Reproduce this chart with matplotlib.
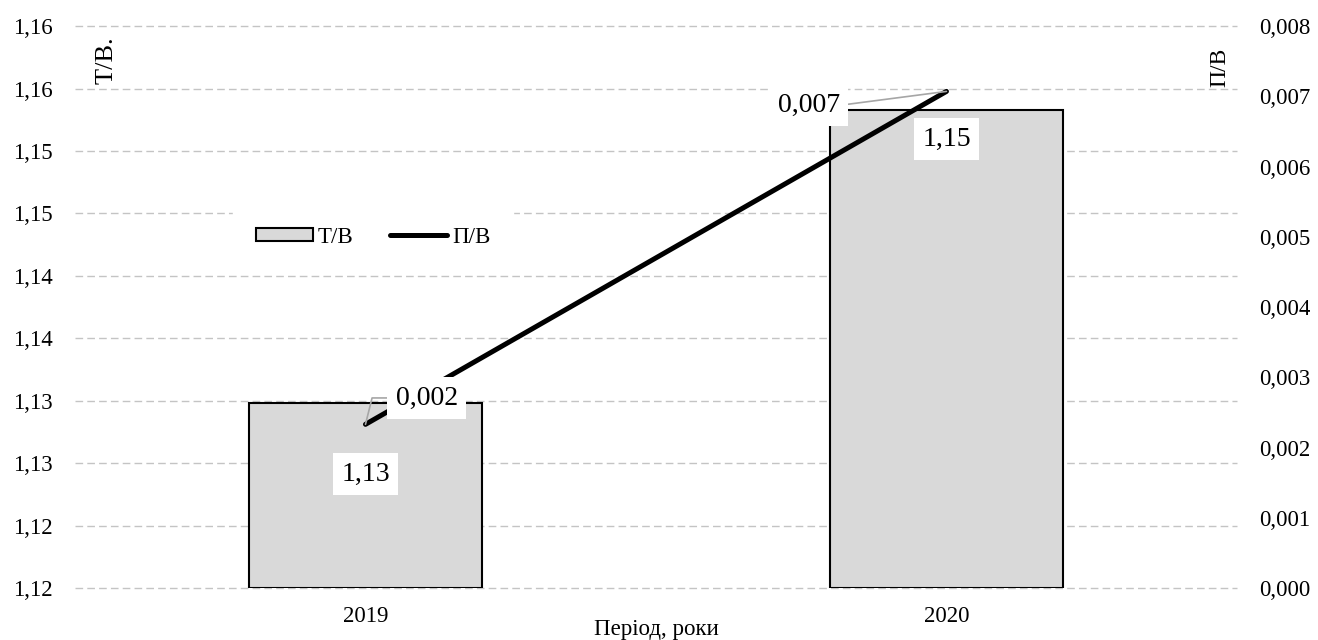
import matplotlib
matplotlib.use("Agg")
import matplotlib.pyplot as plt
from matplotlib.patches import Patch
from matplotlib.lines import Line2D

# ---- data ----
years = ["2019", "2020"]
tv_values = [1.1298, 1.1533]        # Т/В (left axis, bars)
pv_values = [0.00233, 0.00707]      # П/В (right axis, line)
tv_labels = ["1,13", "1,15"]
pv_labels = ["0,002", "0,007"]
left_ticks = [1.115, 1.12, 1.125, 1.13, 1.135, 1.14, 1.145, 1.15, 1.155, 1.16]
left_tick_labels = ["1,12", "1,12", "1,13", "1,13", "1,14", "1,14", "1,15", "1,15", "1,16", "1,16"]
right_ticks = [0.000, 0.001, 0.002, 0.003, 0.004, 0.005, 0.006, 0.007, 0.008]
right_tick_labels = ["0,000", "0,001", "0,002", "0,003", "0,004", "0,005", "0,006", "0,007", "0,008"]
x_title = "Період, роки"
left_title = "Т/В."
right_title = "П/В"
legend_labels = ["Т/В", "П/В"]

plt.rcParams['font.family'] = ['Liberation Serif', 'DejaVu Serif']

fig = plt.figure(figsize=(13.18, 6.4), dpi=100)
ax1 = fig.add_axes([0.0569, 0.08125, 0.8816, 0.878])
ax2 = ax1.twinx()

x = list(range(len(years)))
base = left_ticks[0]
bars = ax1.bar(x, [v - base for v in tv_values], bottom=base, width=0.4,
               color='#d9d9d9', edgecolor='black', linewidth=1.5, zorder=2)
ax1.set_xlim(-0.5, 1.5)
ax1.set_ylim(left_ticks[0], left_ticks[-1])
ax1.set_yticks(left_ticks)
ax1.set_yticklabels(left_tick_labels)
ax1.set_xticks(x)
ax1.set_xticklabels(years)
ax1.yaxis.grid(True, color='#c4c4c4', linestyle=(0, (5.5, 3)), linewidth=1.0, zorder=0)
for gl in ax1.yaxis.get_gridlines():
    gl.set_clip_on(False)
ax1.set_axisbelow(True)
ax1.tick_params(axis='y', length=0, pad=16, labelsize=16.5)
ax1.tick_params(axis='x', length=0, pad=13, labelsize=16.5)
for s in ax1.spines.values():
    s.set_visible(False)

ax2.plot(x, pv_values, color='black', linewidth=3.6, solid_capstyle='round', zorder=3)
ax2.set_ylim(right_ticks[0], right_ticks[-1])
ax2.set_yticks(right_ticks)
ax2.set_yticklabels(right_tick_labels)
ax2.tick_params(axis='y', length=0, pad=16, labelsize=16.5)
for s in ax2.spines.values():
    s.set_visible(False)

# x-axis title
ax1.set_xlabel(x_title, fontsize=16.5, labelpad=-6)

# axis titles inside plot
ax2.text(0.027, 0.94, left_title, transform=ax1.transAxes, rotation=90,
         ha='center', va='center', fontsize=19, zorder=6)
ax2.text(0.9854, 0.927, right_title, transform=ax1.transAxes, rotation=90,
         ha='center', va='center', fontsize=17, zorder=6)

box = dict(boxstyle='square,pad=0.3', facecolor='white', edgecolor='none')

# bar labels
bar_offsets = [-51, -21]
for i, (v, lab) in enumerate(zip(tv_values, tv_labels)):
    ax2.annotate(lab, xy=(x[i], v), xycoords=ax1.transData,
                 xytext=(0, bar_offsets[i]), textcoords='offset points',
                 ha='center', va='center', fontsize=20, bbox=box, zorder=7)

# line labels with leader lines
ax2.annotate(pv_labels[0], xy=(x[0], pv_values[0]), xycoords='data',
             xytext=(44, 19), textcoords='offset points',
             ha='center', va='center', fontsize=20, bbox=box, zorder=7,
             arrowprops=dict(arrowstyle='-', color='#a6a6a6', lw=1.2,
                             relpos=(0, 0.5), shrinkA=0, shrinkB=0,
                             connectionstyle='angle,angleA=0,angleB=76,rad=0'))
ax2.annotate(pv_labels[1], xy=(x[1], pv_values[1]), xycoords='data',
             xytext=(-99, -10), textcoords='offset points',
             ha='center', va='center', fontsize=20, bbox=box, zorder=7,
             arrowprops=dict(arrowstyle='-', color='#a6a6a6', lw=1.2,
                             relpos=(1, 0.5), shrinkA=0, shrinkB=0))

# legend
handles = [Patch(facecolor='#d9d9d9', edgecolor='black', linewidth=1.5),
           Line2D([0], [0], color='black', linewidth=3.6, solid_capstyle='round')]
leg = ax2.legend(handles, legend_labels, loc='center', bbox_to_anchor=(0.2565, 0.6246),
                 bbox_transform=ax1.transAxes, ncol=2, fontsize=16.5, frameon=True,
                 fancybox=False, edgecolor='white', facecolor='white', framealpha=1,
                 handlelength=2.5, handleheight=0.5, handletextpad=0.2,
                 columnspacing=1.6, borderpad=1.0)
leg.set_zorder(5)

fig.savefig('out.png', dpi=100)
